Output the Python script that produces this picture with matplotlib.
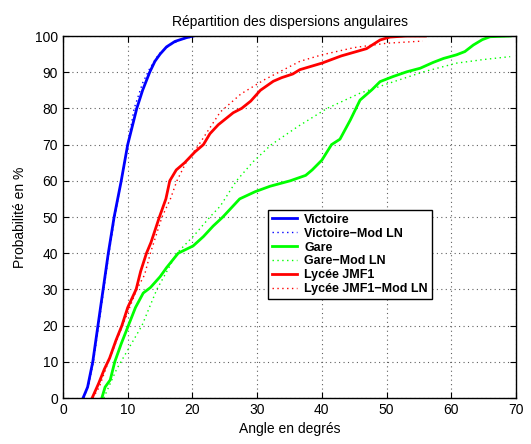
import matplotlib
matplotlib.use("Agg")
import matplotlib.pyplot as plt

plt.rcParams["font.family"] = ["Liberation Sans", "DejaVu Sans"]

# Cumulative distributions of angular spread (degrees, %)
victoire_x = [3.1, 3.8, 4.6, 5.0, 5.4, 6.2, 7.0, 7.9, 9.0, 10.0, 10.7, 11.4, 12.3, 13.4, 14.2, 15.0, 16.0, 17.3, 19.0, 20.1]
victoire_y = [0, 3, 10, 15, 20, 30, 40, 50, 60, 70, 75, 80, 85, 90, 93, 95, 97, 98.5, 99.5, 100]

victoire_ln_x = [3.2, 4.0, 4.7, 5.5, 6.3, 7.1, 8.0, 9.0, 10.0, 11.0, 12.3, 13.4, 14.8, 16.5, 18.5, 20.6]
victoire_ln_y = [0, 4, 10, 20, 30, 40, 50, 60, 70, 80, 87, 91, 95, 97.5, 99.2, 100]

gare_x = [6.0, 6.5, 7.3, 8.0, 9.0, 10.1, 11.2, 12.4, 13.5, 15.0, 16.0, 17.8, 20.1, 21.7, 23.2, 24.7, 27.3, 29.7,
          32.0, 35.1, 37.5, 38.5, 40.0, 41.5, 42.8, 44.4, 45.9, 47.7, 49.0, 51.0, 53.1, 55.2, 57.2, 58.8,
          60.8, 62.1, 63.4, 64.8, 66.0, 69.1]
gare_y = [0, 3, 5, 10, 15, 20, 25, 29, 30.5, 33.5, 36, 40, 42, 44.6, 47.5, 50, 55, 57, 58.5, 60, 61.5, 63,
          65.7, 70, 71.5, 76.8, 82.3, 85.1, 87.4, 88.8, 90.1, 91.1, 92.7, 93.8, 94.8, 95.7, 97.5, 99.0,
          99.8, 100]

gare_ln_x = [6.3, 7.3, 8.3, 9.6, 12.2, 14.5, 17.6, 20.3, 22.7, 24.3, 26.8, 29.4, 32.2, 36.3, 40.8, 45.9,
             50.8, 55.7, 60.8, 65.0, 69.1]
gare_ln_y = [0, 4, 8, 12, 20, 30, 40, 45, 50, 53, 60, 65.3, 70, 75, 80, 84.2, 87.2, 90.1, 92.5, 93.5, 94.3]

lycee_x = [4.5, 5.5, 6.4, 7.2, 8.2, 9.1, 10.0, 11.3, 12.0, 12.9, 13.6, 14.9, 15.9, 16.5, 17.5, 18.8, 20.4,
           21.7, 22.7, 24.0, 26.3, 27.6, 29.0, 30.5, 32.5, 33.8, 35.5, 36.6, 40.0, 43.0, 46.9, 49.0, 50.5,
           53.0, 56.0]
lycee_y = [0, 4, 8, 11, 16, 20, 25, 30, 35, 40, 43, 50, 55, 60, 63, 65, 68, 70, 73, 75.5, 78.8, 80, 82,
           85, 87.5, 88.5, 89.5, 90.7, 92.5, 94.5, 96.5, 98.9, 99.7, 100, 100]

lycee_ln_x = [4.6, 5.6, 7.0, 9.2, 11.4, 12.6, 13.5, 15.3, 16.6, 17.6, 19.0, 21.0, 24.3, 27.5, 31.2, 36.6,
              40.0, 45.0, 50.0, 55.6]
lycee_ln_y = [0, 3, 10, 20, 30, 34, 40, 50, 55, 60, 65, 70, 79, 84, 88, 93, 94.8, 96.8, 98, 98.6]

x_ticks = list(range(0, 71, 10))
y_ticks = list(range(0, 101, 10))

fig = plt.figure(figsize=(5.31, 4.44), dpi=100)
ax = fig.add_axes([63 / 531, 1 - 398 / 444, 453 / 531, 362 / 444])

dots = (0, (1, 2.5))
ax.plot(victoire_x, victoire_y, color="#0000ff", lw=2, label="Victoire")
ax.plot(victoire_ln_x, victoire_ln_y, color="#0000ff", lw=1, ls=dots, label="Victoire\u2212Mod LN")
ax.plot(gare_x, gare_y, color="#00ff00", lw=2, label="Gare")
ax.plot(gare_ln_x, gare_ln_y, color="#00ff00", lw=1, ls=dots, label="Gare\u2212Mod LN")
ax.plot(lycee_x, lycee_y, color="#ff0000", lw=2, label="Lycée JMF1")
ax.plot(lycee_ln_x, lycee_ln_y, color="#ff0000", lw=1, ls=dots, label="Lycée JMF1\u2212Mod LN")

ax.set_xlim(0, 70)
ax.set_ylim(0, 100)
ax.set_xticks(x_ticks)
ax.set_yticks(y_ticks)
ax.tick_params(direction="in", top=True, right=True, length=4, labelsize=10)
ax.grid(True, color="#606060", ls=(0, (1, 3)), lw=0.8)
for sp in ax.spines.values():
    sp.set_linewidth(1.0)

ax.set_title("Répartition des dispersions angulaires", fontsize=10, pad=7)
ax.set_xlabel("Angle en degrés", fontsize=10, labelpad=4)
ax.set_ylabel("Probabilité en %", fontsize=10, labelpad=6)

leg = ax.legend(loc="upper left", bbox_to_anchor=(0.4525, 0.519), fancybox=False, framealpha=1,
                edgecolor="black", prop={"weight": "bold", "size": 9}, handlelength=2.0,
                borderpad=0.3, labelspacing=0.15, handletextpad=0.6, borderaxespad=0)
leg.get_frame().set_linewidth(1.0)

fig.savefig("out.png", dpi=100)
